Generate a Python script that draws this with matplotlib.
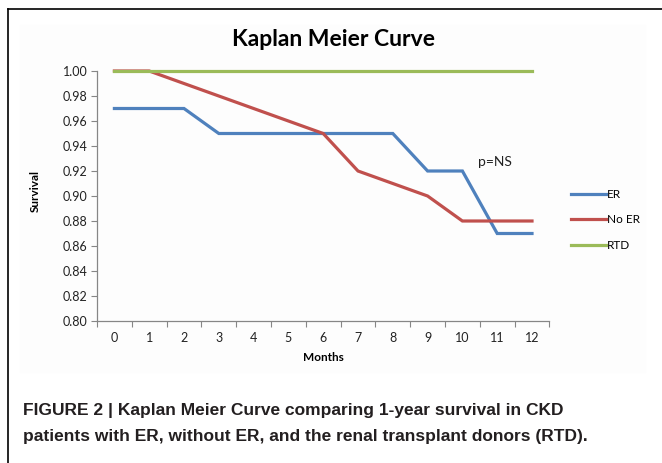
import matplotlib.pyplot as plt
from matplotlib.lines import Line2D
from matplotlib.patches import Rectangle

months = list(range(13))
er = [0.97, 0.97, 0.97, 0.95, 0.95, 0.95, 0.95, 0.95, 0.95, 0.92, 0.92, 0.87, 0.87]
no_er = [1.00, 1.00, 0.99, 0.98, 0.97, 0.96, 0.95, 0.92, 0.91, 0.90, 0.88, 0.88, 0.88]
rtd = [1.00] * 13
series = [("ER", er, "#4F81BD"), ("No ER", no_er, "#C0504D"), ("RTD", rtd, "#9BBB59")]
y_ticks = [0.80, 0.82, 0.84, 0.86, 0.88, 0.90, 0.92, 0.94, 0.96, 0.98, 1.00]

chart_font = "Lato"
axis_grey = "#868686"

fig = plt.figure(figsize=(6.62, 4.63), dpi=100)
W, H = 662, 463

# frame lines of the figure box (top and left only)
fig.add_artist(Line2D([8 / W, 1], [1 - 9 / H, 1 - 9 / H], color="black", lw=1.2))
fig.add_artist(Line2D([8 / W, 8 / W], [0, 1 - 9 / H], color="black", lw=1.2))
# very faint chart area
fig.add_artist(Rectangle((20 / W, 1 - 372 / H), 625 / W, 347 / H, color="#fdfdfd", zorder=0))

ax = fig.add_axes([97 / W, 1 - 321 / H, (549.4 - 97) / W, (321 - 71) / H])
ax.patch.set_alpha(0)

# RTD drawn last so it covers No ER along 1.00
for name, vals, col in series:
    ax.plot(months, vals, color=col, lw=2.3, solid_joinstyle="miter", clip_on=False)

ax.set_xlim(-0.5, 12.5)
ax.set_ylim(0.80, 1.00)
ax.set_yticks(y_ticks)
ax.set_yticklabels([f"{v:.2f}" for v in y_ticks], fontsize=9, family=chart_font, color="#222222")

# category axis: ticks between categories, labels on categories
ax.set_xticks([m - 0.5 for m in months] + [12.5])
ax.set_xticklabels([])
ax.set_xticks(months, minor=True)
ax.set_xticklabels([str(m) for m in months], minor=True, fontsize=9, family=chart_font, color="#222222")
ax.tick_params(axis="x", which="major", length=4, direction="out", color=axis_grey)
ax.tick_params(axis="x", which="minor", length=0, pad=8)
ax.tick_params(axis="y", length=4, direction="out", color=axis_grey, pad=3)

for s in ["top", "right"]:
    ax.spines[s].set_visible(False)
for s in ["left", "bottom"]:
    ax.spines[s].set_color(axis_grey)
    ax.spines[s].set_linewidth(0.9)

ax.set_xlabel("Months", fontsize=8.5, fontweight="bold", family=chart_font, labelpad=6)
ax.set_ylabel("Survival", fontsize=8.5, fontweight="bold", family=chart_font, labelpad=12)
ax.yaxis.set_label_coords(-0.125, 0.52)

ax.text(10.45, 0.927, "p=NS", fontsize=10, family=chart_font, va="center", ha="left", color="#222222")

fig.text(333 / W, 1 - 40 / H, "Kaplan Meier Curve", ha="center", va="center",
         fontsize=16.5, fontweight="bold", family=chart_font)

handles = [Line2D([], [], color=c, lw=2.3) for _, _, c in series]
leg = fig.legend(handles, [n for n, _, _ in series], loc="upper left",
                 bbox_to_anchor=(566 / W, 1 - 184 / H), frameon=False,
                 prop={"family": chart_font, "size": 8.5}, handlelength=3.0,
                 handletextpad=0.05, labelspacing=1.25, borderaxespad=0)

cap_font = ["Liberation Sans", "DejaVu Sans"]
fig.text(23 / W, 1 - 410 / H, "FIGURE 2 | Kaplan Meier Curve comparing 1-year survival in CKD",
         fontsize=12.5, fontweight="bold", family=cap_font,
         va="center", ha="left", color="#231f20")
fig.text(23 / W, 1 - 436 / H, "patients with ER, without ER, and the renal transplant donors (RTD).",
         fontsize=12.5, fontweight="bold", family=cap_font,
         va="center", ha="left", color="#231f20")

fig.savefig("out.png", dpi=100)
